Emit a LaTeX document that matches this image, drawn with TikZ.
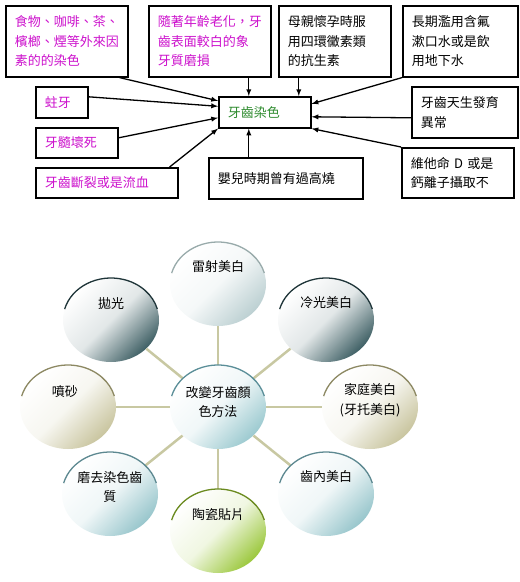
\documentclass[tikz,border=0pt]{standalone}
\usepackage{fontspec}
\setmainfont{Noto Sans CJK TC}
\usepackage{tikz}
\usetikzlibrary{shapes.geometric}
\usepackage{xcolor}

\definecolor{pinkT}{HTML}{CC11CC}
\definecolor{greenT}{HTML}{2E8B2E}
\definecolor{spoke}{HTML}{C8C8A2}
\definecolor{hubC}{HTML}{9CCAD0}
\definecolor{hubR}{HTML}{5A8E98}
\definecolor{paleC}{HTML}{BCD0D2}
\definecolor{paleR}{HTML}{98AAAA}
\definecolor{slateC}{HTML}{3F6065}
\definecolor{slateR}{HTML}{1E3438}
\definecolor{oliveC}{HTML}{C9C59F}
\definecolor{oliveR}{HTML}{8C8862}
\definecolor{tealC}{HTML}{98C6CC}
\definecolor{tealR}{HTML}{5C8890}
\definecolor{leafC}{HTML}{9CC83E}
\definecolor{leafR}{HTML}{6A8A1E}

\newcommand{\toprim}[2]{\draw[#2, line width=1.3pt] ([shift={(165:48pt and 42pt)}]#1.center) arc[start angle=165, end angle=15, x radius=48pt, y radius=42pt];}

\begin{document}
\begin{tikzpicture}[x=1pt, y=-1pt, >=latex,
    every node/.style={font=\fontsize{13}{19.5}\selectfont},
    cause/.style={draw, line width=1.6pt, anchor=north west, inner xsep=9pt, inner ysep=2pt, align=left},
    method/.style={ellipse, minimum width=96pt, minimum height=84pt, inner sep=0pt,
                   top color=white, bottom color=#1, middle color=#1!15, shading angle=45},
    mtext/.style={align=center, inner sep=0pt}]
\useasboundingbox (0,0) rectangle (520,582);

% causes of staining
\node[cause, text=pinkT, minimum width=122pt, minimum height=71pt, text width=104pt] (food) at (5,5)
    {食物、咖啡、茶、\\檳榔、煙等外來因\\素的的染色};
\node[cause, text=pinkT, minimum width=122pt, minimum height=71pt, text width=104pt] (aging) at (148,5)
    {隨著年齡老化，牙\\齒表面較白的象\\牙質磨損};
\node[cause, minimum width=112pt, minimum height=71pt, text width=94pt] (antib) at (278,5)
    {母親懷孕時服\\用四環黴素類\\的抗生素};
\node[cause, minimum width=115pt, minimum height=71pt, text width=97pt] (fluor) at (402,5)
    {長期濫用含氟\\漱口水或是飲\\用地下水};
\node[cause, text=greenT, minimum width=92pt, minimum height=31pt, text width=74pt] (stain) at (218,96) {牙齒染色};
\node[cause, text=pinkT, minimum width=52pt, minimum height=31pt, text width=34pt] (decay) at (35,86) {蛀牙};
\node[cause, text=pinkT, minimum width=82pt, minimum height=30pt, text width=64pt] (pulp) at (35,127) {牙髓壞死};
\node[cause, text=pinkT, minimum width=142pt, minimum height=30pt, text width=124pt] (fract) at (35,167) {牙齒斷裂或是流血};
\node[cause, minimum width=154pt, minimum height=41pt, text width=136pt] (fever) at (208,157) {嬰兒時期曾有過高燒};
\node[cause, minimum width=106pt, minimum height=51pt, text width=88pt] (devel) at (411,86) {牙齒天生發育\\異常};
\node[cause, minimum width=112pt, minimum height=50pt, text width=94pt] (vitd) at (401,147) {維他命 D 或是\\鈣離子攝取不};

\coordinate (in-l) at ([xshift=-16pt]stain.north);
\coordinate (in-r) at ([xshift=34pt]stain.north);
\coordinate (in-b) at ([xshift=-16pt]stain.south);

\draw[->, line width=1.3pt] ([xshift=-9pt]food.south east) -- ([yshift=11.5pt]stain.west);
\draw[->, line width=1.3pt] ([yshift=5.5pt]decay.east) -- ([yshift=6pt]stain.west);
\draw[->, line width=1.3pt] ([yshift=5pt]pulp.east) -- ([yshift=-5.5pt]stain.west);
\draw[->, line width=1.3pt] ([xshift=-9pt]fract.north east) -- (stain.south west);
\draw[->, line width=1.3pt] (in-l |- aging.south) -- (in-l);
\draw[->, line width=1.3pt] (in-r |- antib.south) -- (in-r);
\draw[->, line width=1.3pt] (in-b |- fever.north) -- (in-b);
\draw[->, line width=1.3pt] (fluor.south west) -- ([yshift=8.5pt]stain.east);
\draw[->, line width=1.3pt] ([yshift=-5.5pt]devel.west) -- ([yshift=-4.5pt]stain.east);
\draw[->, line width=1.3pt] (vitd.north west) -- (stain.south east);

% ways to change tooth colour
\node[method=hubC] (hub) at (218,407) {};
\node[method=paleC] (laser) at (218,284) {};
\node[method=slateC] (polish) at (111,320) {};
\node[method=slateC] (cold) at (326,320) {};
\node[method=oliveC] (sand) at (68,407) {};
\node[method=oliveC] (home) at (370,407) {};
\node[method=tealC] (grind) at (110,494) {};
\node[method=leafC] (veneer) at (218,531) {};
\node[method=tealC] (inner) at (326,494) {};

\draw[spoke, line width=2.5pt] (hub) -- (laser);
\draw[spoke, line width=2.5pt] (hub) -- (polish);
\draw[spoke, line width=2.5pt] (hub) -- (cold);
\draw[spoke, line width=2.5pt] (hub) -- (sand);
\draw[spoke, line width=2.5pt] (hub) -- (home);
\draw[spoke, line width=2.5pt] (hub) -- (grind);
\draw[spoke, line width=2.5pt] (hub) -- (veneer);
\draw[spoke, line width=2.5pt] (hub) -- (inner);

\toprim{hub}{hubR}
\toprim{laser}{paleR}
\toprim{polish}{slateR}
\toprim{cold}{slateR}
\toprim{sand}{oliveR}
\toprim{home}{oliveR}
\toprim{grind}{tealR}
\toprim{veneer}{leafR}
\toprim{inner}{tealR}

\node[mtext] (hub-t) at ([yshift=5pt]hub.center) {改變牙齒顏\\色方法};
\node[mtext] (laser-t) at ([yshift=17pt]laser.center) {雷射美白};
\node[mtext] (polish-t) at ([yshift=16pt]polish.center) {拋光};
\node[mtext] (cold-t) at ([yshift=17pt]cold.center) {冷光美白};
\node[mtext] (sand-t) at ([yshift=15pt,xshift=-3pt]sand.center) {噴砂};
\node[mtext] (home-t) at ([yshift=7pt]home.center) {家庭美白\\(牙托美白)};
\node[mtext] (grind-t) at ([yshift=7pt]grind.center) {磨去染色齒\\質};
\node[mtext] (veneer-t) at ([yshift=16pt]veneer.center) {陶瓷貼片};
\node[mtext] (inner-t) at ([yshift=17pt]inner.center) {齒內美白};
\end{tikzpicture}
\end{document}
